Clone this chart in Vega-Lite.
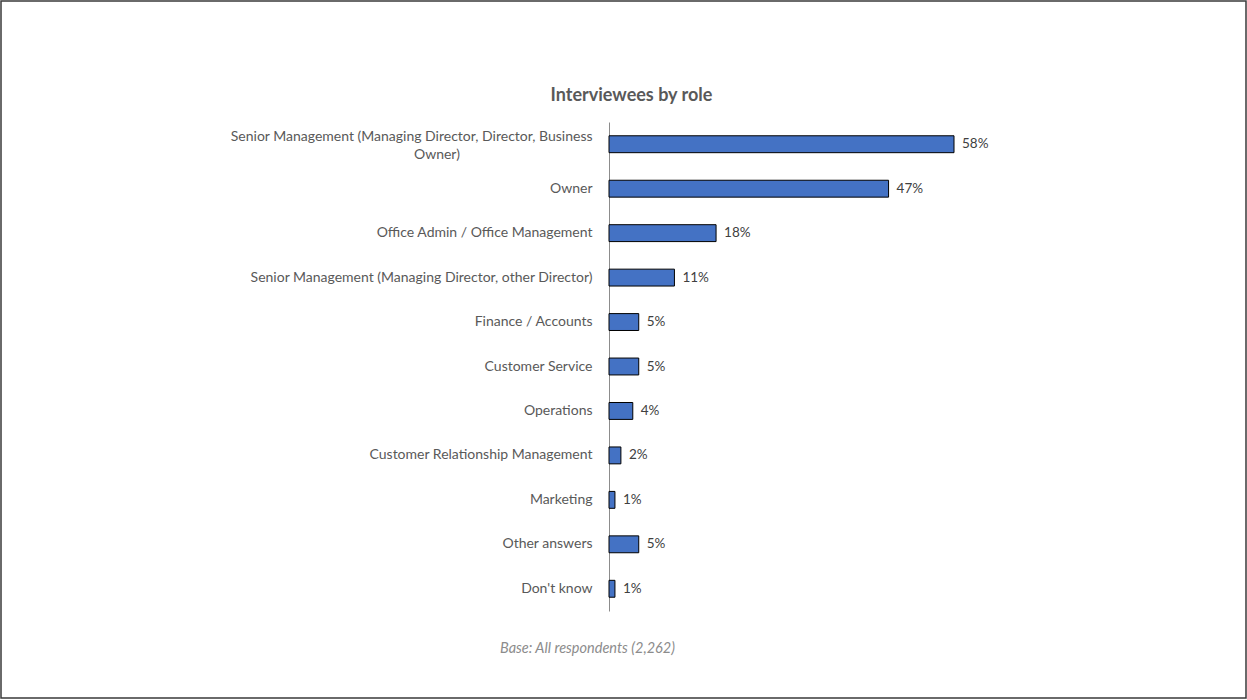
{
  "$schema": "https://vega.github.io/schema/vega-lite/v6.json",
  "width": 1245,
  "height": 697,
  "padding": {"left": 1, "top": 1, "right": 1, "bottom": 2},
  "autosize": {"type": "none"},
  "background": "white",
  "config": {
    "font": "Lato",
    "view": {"stroke": "#3a3a3a", "strokeWidth": 1.5}
  },
  "title": {
    "text": "Interviewees by role",
    "font": "Lato",
    "fontSize": 18,
    "fontWeight": "bold",
    "color": "#595959",
    "anchor": "middle",
    "frame": "group",
    "orient": "top",
    "baseline": "alphabetic",
    "offset": -118,
    "dx": 8
  },
  "data": {
    "values": [
      {"role": "Senior Management (Managing Director, Director, Business Owner)", "share": 0.58},
      {"role": "Owner", "share": 0.47},
      {"role": "Office Admin / Office Management", "share": 0.18},
      {"role": "Senior Management (Managing Director, other Director)", "share": 0.11},
      {"role": "Finance / Accounts", "share": 0.05},
      {"role": "Customer Service", "share": 0.05},
      {"role": "Operations", "share": 0.04},
      {"role": "Customer Relationship Management", "share": 0.02},
      {"role": "Marketing", "share": 0.01},
      {"role": "Other answers", "share": 0.05},
      {"role": "Don't know", "share": 0.01}
    ]
  },
  "encoding": {
    "y": {
      "field": "role",
      "type": "nominal",
      "sort": null,
      "scale": {"range": [121, 610], "paddingInner": 0.62, "paddingOuter": 0.31},
      "axis": {
        "title": null,
        "offset": -608,
        "ticks": false,
        "tickSize": 0,
        "labelPadding": 17,
        "labelFontSize": 14,
        "labelColor": "#595959",
        "labelLimit": 600,
        "labelLineHeight": 18,
        "labelOffset": {"condition": {"test": "datum.value == 'Senior Management (Managing Director, Director, Business Owner)'", "value": -7}, "value": 0},
        "domainColor": "#8c8c8c",
        "domainWidth": 1,
        "labelExpr": "datum.label == 'Senior Management (Managing Director, Director, Business Owner)' ? ['Senior Management (Managing Director, Director, Business', 'Owner)\u00a0\u00a0\u00a0\u00a0\u00a0\u00a0\u00a0\u00a0\u00a0\u00a0\u00a0\u00a0\u00a0\u00a0\u00a0\u00a0\u00a0\u00a0\u00a0\u00a0\u00a0\u00a0\u00a0\u00a0\u00a0\u00a0\u00a0\u00a0\u00a0\u00a0\u00a0\u00a0\u00a0\u00a0\u00a0\u00a0\u00a0\u200b'] : datum.label"
      }
    },
    "x": {
      "field": "share",
      "type": "quantitative",
      "scale": {"domain": [0, 0.58], "range": [608, 953], "zero": true, "nice": false},
      "axis": {
        "title": "Base: All respondents (2,262)",
        "titleFontStyle": "italic",
        "titleFontWeight": "normal",
        "titleFontSize": 14.5,
        "titleColor": "#8c8c8c",
        "titleX": 586,
        "titleY": -57,
        "titleAnchor": "middle",
        "labels": false,
        "ticks": false,
        "domain": false,
        "grid": false
      }
    }
  },
  "layer": [
    {
      "mark": {"type": "bar", "color": "#4472C4", "stroke": "#000000", "strokeWidth": 1}
    },
    {
      "mark": {"type": "text", "align": "left", "baseline": "middle", "dx": 8, "fontSize": 13.5, "color": "#404040"},
      "encoding": {
        "text": {"field": "share", "type": "quantitative", "format": ".0%"}
      }
    }
  ]
}
